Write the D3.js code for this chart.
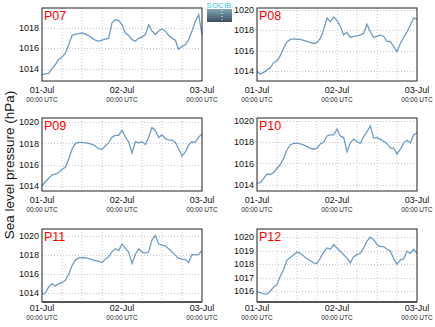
<!DOCTYPE html>
<html><head><meta charset="utf-8">
<script src="https://cdn.jsdelivr.net/npm/d3@7"></script>
<style>body{margin:0;background:#fff;}svg{display:block;font-family:"Liberation Sans",Arial,sans-serif;}</style>
</head><body>
<script>
const stations = ["P07","P08","P09","P10","P11","P12"];
const hours = d3.range(0,49); // hours since 01-Jul 00:00 UTC
const p07 = [1013.4,1013.5,1013.55,1014.0,1014.4,1014.9,1015.15,1015.5,1016.35,1017.25,1017.4,1017.45,1017.5,1017.4,1017.25,1017.0,1016.8,1016.7,1016.8,1016.9,1017.0,1018.5,1018.8,1018.75,1018.3,1017.5,1017.25,1016.85,1016.7,1017.0,1017.1,1017.35,1018.3,1017.7,1017.35,1017.7,1017.9,1017.7,1017.25,1017.0,1016.8,1015.9,1016.2,1016.35,1016.85,1017.7,1018.65,1019.3,1017.35];
const p08 = [1013.95,1013.7,1013.85,1014.1,1014.3,1014.8,1015.0,1015.5,1016.25,1016.85,1017.1,1017.15,1017.1,1017.1,1017.0,1016.9,1016.8,1016.7,1016.8,1017.2,1018.05,1019.2,1018.85,1019.3,1018.95,1018.4,1017.55,1017.8,1017.3,1017.4,1017.45,1017.55,1017.7,1018.6,1017.85,1017.3,1017.4,1017.55,1017.4,1016.9,1016.9,1016.4,1015.9,1016.7,1017.3,1017.85,1018.5,1019.2,1019.1];
const p09 = [1014.0,1014.35,1014.7,1015.0,1015.1,1015.25,1015.55,1015.75,1016.5,1017.45,1018.0,1018.1,1018.1,1018.05,1018.0,1017.9,1017.75,1017.5,1017.45,1017.75,1018.05,1018.6,1018.75,1018.75,1019.25,1018.6,1018.15,1017.1,1018.15,1018.05,1018.15,1017.9,1018.6,1019.5,1019.2,1018.55,1018.8,1018.45,1018.3,1018.3,1018.1,1017.5,1016.8,1017.2,1017.85,1018.15,1018.1,1018.6,1018.9];
const p10 = [1014.15,1014.2,1014.6,1015.0,1014.95,1015.15,1015.55,1015.9,1016.5,1017.3,1017.75,1017.9,1017.9,1017.85,1017.75,1017.6,1017.45,1017.35,1017.45,1017.85,1018.0,1018.6,1018.7,1018.7,1019.25,1018.6,1018.45,1017.1,1017.95,1018.3,1018.05,1017.9,1018.55,1019.0,1019.55,1018.4,1018.45,1018.3,1018.1,1017.9,1017.45,1017.45,1016.9,1017.35,1017.95,1018.2,1017.95,1018.7,1018.9];
const p11 = [1013.8,1013.95,1014.6,1014.95,1014.7,1014.95,1015.05,1015.3,1015.95,1016.85,1017.45,1017.65,1017.7,1017.7,1017.6,1017.5,1017.4,1017.3,1017.2,1017.55,1017.8,1018.35,1018.65,1018.45,1019.15,1018.7,1018.3,1017.1,1018.05,1018.65,1018.3,1018.2,1018.3,1019.6,1020.05,1019.15,1019.05,1018.95,1018.65,1018.3,1017.95,1017.65,1017.55,1017.5,1017.2,1018.05,1018.0,1018.05,1018.45];
const p12 = [1015.95,1015.9,1015.8,1015.8,1016.0,1016.3,1016.5,1017.1,1017.6,1018.3,1018.5,1018.7,1018.9,1018.8,1018.6,1018.4,1018.25,1018.1,1018.05,1018.45,1018.9,1019.2,1019.1,1019.45,1019.2,1018.95,1018.7,1018.45,1018.1,1018.55,1018.7,1018.8,1019.2,1019.7,1020.0,1019.8,1019.45,1019.3,1019.3,1019.1,1019.0,1018.4,1018.0,1018.3,1018.4,1018.95,1018.8,1019.1,1018.8];
const series = [p07,p08,p09,p10,p11,p12];
const yDomains = [[1012.8,1019.95],[1013.0,1020.2],[1013.5,1020.4],[1013.4,1020.3],[1013.0,1020.75],[1015.2,1020.6]];
const yTicks = [[1014,1016,1018],[1014,1016,1018,1020],[1014,1016,1018,1020],[1014,1016,1018,1020],[1014,1016,1018,1020],[1016,1017,1018,1019,1020]];
const xTickLabels = ["01-Jul","02-Jul","03-Jul"];
const xSubLabel = "00:00 UTC";
const yTitle = "Sea level pressure (hPa)";

const W=435,H=327;
const svg=d3.select("body").append("svg").attr("width",W).attr("height",H);

const lefts=[42,257], tops=[8,118,229], pw=160, ph=73;
const t0=new Date(Date.UTC(2024,6,1,0));
const hToDate=h=>new Date(t0.getTime()+h*3600e3);

series.forEach((vals,i)=>{
  const col=i%2,row=Math.floor(i/2);
  const x0=lefts[col],y0=tops[row];
  const g=svg.append("g").attr("transform",`translate(${x0},${y0})`);
  const x=d3.scaleUtc().domain([hToDate(0),hToDate(48)]).range([0,pw]);
  const y=d3.scaleLinear().domain(yDomains[i]).range([ph,0]);
  // grid
  g.selectAll(".vg").data(d3.range(6,48,6)).join("line")
    .attr("x1",d=>x(hToDate(d))).attr("x2",d=>x(hToDate(d)))
    .attr("y1",0).attr("y2",ph).attr("stroke","#c8c8c8").attr("stroke-width",1).attr("stroke-dasharray","1,2");
  g.selectAll(".hg").data(yTicks[i]).join("line")
    .attr("x1",0).attr("x2",pw).attr("y1",d=>Math.round(y(d))+0.5).attr("y2",d=>Math.round(y(d))+0.5)
    .attr("stroke","#c8c8c8").attr("stroke-width",1).attr("stroke-dasharray","1,2");
  // line
  const line=d3.line().x((d,j)=>x(hToDate(hours[j]))).y(d=>y(d)).curve(d3.curveLinear);
  g.append("path").datum(vals).attr("d",line).attr("fill","none").attr("stroke","#6f9cc6").attr("stroke-width",1.3);
  // frame
  g.append("rect").attr("x",0).attr("y",0).attr("width",pw).attr("height",ph).attr("fill","none").attr("stroke","#222").attr("stroke-width",1);
  if(row===2){
    g.append("line").attr("x1",0).attr("x2",pw).attr("y1",ph).attr("y2",ph).attr("stroke","#555").attr("stroke-width",2);
  }
  // y tick labels
  g.selectAll(".yl").data(yTicks[i]).join("text")
    .attr("x",-3).attr("y",d=>y(d)).attr("dy","0.35em").attr("text-anchor","end")
    .attr("font-size",9).attr("fill","#111").text(d=>d);
  // x tick labels
  const xt=[0,24,48];
  const off = row===2 ? 9 : 12;
  g.selectAll(".xl").data(xt).join("text")
    .attr("x",d=>x(hToDate(d))).attr("y",ph+off).attr("text-anchor","middle")
    .attr("font-size",9).attr("fill","#111").text((d,k)=>xTickLabels[k]);
  g.selectAll(".xs").data(xt).join("text")
    .attr("x",d=>x(hToDate(d))).attr("y",ph+off+9).attr("text-anchor","middle")
    .attr("font-size",6.5).attr("fill","#222").text(xSubLabel);
  // station label
  g.append("text").attr("x",2).attr("y",12).attr("font-size",12.5).attr("fill","#ff0000").text(stations[i]);
});

// y title
svg.append("text").attr("transform","translate(14,165) rotate(-90)").attr("text-anchor","middle")
  .attr("font-size",13.5).attr("fill","#111").text(yTitle);

// logo
const defs=svg.append("defs");
const lg=defs.append("linearGradient").attr("id","lg").attr("x1",0).attr("y1",0).attr("x2",0).attr("y2",1);
lg.append("stop").attr("offset","0%").attr("stop-color","#7fa6b6");
lg.append("stop").attr("offset","100%").attr("stop-color","#3c4e5c");
svg.append("text").attr("x",219).attr("y",8).attr("text-anchor","middle").attr("font-size",8).attr("fill","#3cc4dc").text("SOCIB");
svg.append("rect").attr("x",207).attr("y",9).attr("width",25).attr("height",13).attr("fill","url(#lg)");
svg.append("line").attr("x1",222).attr("x2",222).attr("y1",10).attr("y2",21).attr("stroke","#fff").attr("stroke-dasharray","1,2").attr("stroke-width",1);
</script>
</body></html>
